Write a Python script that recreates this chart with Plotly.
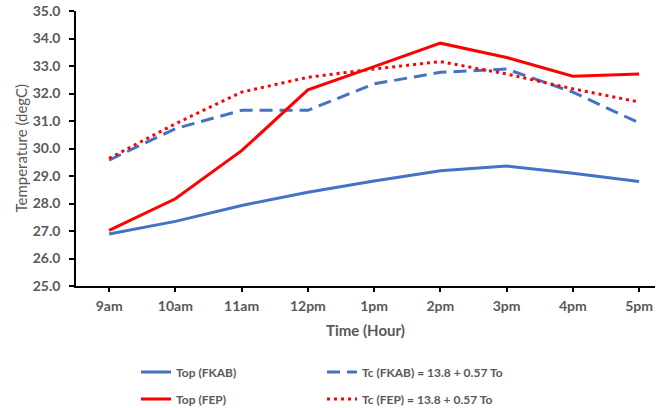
import plotly.graph_objects as go

hours = ["9am", "10am", "11am", "12pm", "1pm", "2pm", "3pm", "4pm", "5pm"]
top_fkab = [26.89, 27.35, 27.93, 28.41, 28.82, 29.19, 29.36, 29.10, 28.80]
top_fep = [27.02, 28.17, 29.92, 32.13, 32.98, 33.83, 33.31, 32.63, 32.71]
tc_fkab = [29.58, 30.72, 31.39, 31.39, 32.35, 32.77, 32.89, 32.05, 30.93]
tc_fep = [29.64, 30.90, 32.05, 32.59, 32.89, 33.16, 32.71, 32.17, 31.69]

BLUE = "#4472C4"
RED = "#FF0000"
GRAY = "#595959"
FONT = "Lato"

fig = go.Figure()
fig.add_trace(go.Scatter(x=hours, y=top_fkab, mode="lines", name="Top (FKAB)",
                         line=dict(color=BLUE, width=3), legend="legend"))
fig.add_trace(go.Scatter(x=hours, y=tc_fkab, mode="lines", name="Tc (FKAB) = 13.8 + 0.57 To",
                         line=dict(color=BLUE, width=3, dash="13px,7px"), legend="legend2"))
fig.add_trace(go.Scatter(x=hours, y=top_fep, mode="lines", name="Top (FEP)",
                         line=dict(color=RED, width=3), legend="legend3"))
fig.add_trace(go.Scatter(x=hours, y=tc_fep, mode="lines", name="Tc (FEP) = 13.8 + 0.57 To",
                         line=dict(color=RED, width=3, dash="3px,4px"), legend="legend4"))

W, H = 661, 408
L, R, T, B = 76, 6, 11, 122
PW = W - L - R

def leg(xpx, ypx):
    return dict(x=(xpx - L) / PW, y=1 - (ypx - T) / (H - T - B),
                xanchor="left", yanchor="middle", bgcolor="rgba(0,0,0,0)",
                font=dict(family=FONT, size=12, color=GRAY, weight="bold"),
                borderwidth=0)

fig.update_layout(
    width=W, height=H,
    margin=dict(l=L, r=R, t=T, b=B, autoexpand=False),
    plot_bgcolor="white", paper_bgcolor="white",
    font=dict(family=FONT, color=GRAY),
    showlegend=True,
    legend=leg(136, 372),
    legend2=leg(322, 372),
    legend3=leg(136, 399),
    legend4=leg(322, 399),
    xaxis=dict(type="category", range=[-0.5, 8.24], showline=True, linecolor="black",
               linewidth=1.5, ticks="outside", ticklen=4, tickcolor="black", tickwidth=1.5,
               showgrid=False, zeroline=False, automargin=False, ticklabelstandoff=2,
               ticklabeloverflow="allow",
               tickfont=dict(family=FONT, size=14, color=GRAY, weight="bold"),
               title=dict(text="Time (Hour)", standoff=13,
                          font=dict(family=FONT, size=15, color=GRAY, weight="bold"))),
    yaxis=dict(range=[25, 35], dtick=1, tickformat=".1f", showline=True, linecolor="black",
               linewidth=1.5, ticks="outside", ticklen=5, tickcolor="black", tickwidth=1.5,
               showgrid=False, zeroline=False, automargin=False, ticklabelstandoff=6,
               ticklabeloverflow="allow",
               tickfont=dict(family=FONT, size=14, color=GRAY, weight="bold")),
    xaxis2=dict(overlaying="x", anchor="y", range=[-0.5, 8.24], tickvals=list(range(len(hours))),
                showticklabels=False, ticks="inside", ticklen=3, tickcolor="black", tickwidth=1.5,
                showgrid=False, zeroline=False, showline=False),
    yaxis2=dict(overlaying="y", anchor="x", range=[25, 35], dtick=1,
                showticklabels=False, ticks="inside", ticklen=4, tickcolor="black", tickwidth=1.5,
                showgrid=False, zeroline=False, showline=False),
    annotations=[dict(text="Temperature (degC)", textangle=-90, xref="paper", yref="paper",
                      x=(20 - L) / PW, y=0.5, xanchor="center", yanchor="middle",
                      showarrow=False, font=dict(family=FONT, size=15, color=GRAY))],
)

fig.write_html("out.html", post_script="document.body.style.margin='0';",
               config={"displayModeBar": False})
